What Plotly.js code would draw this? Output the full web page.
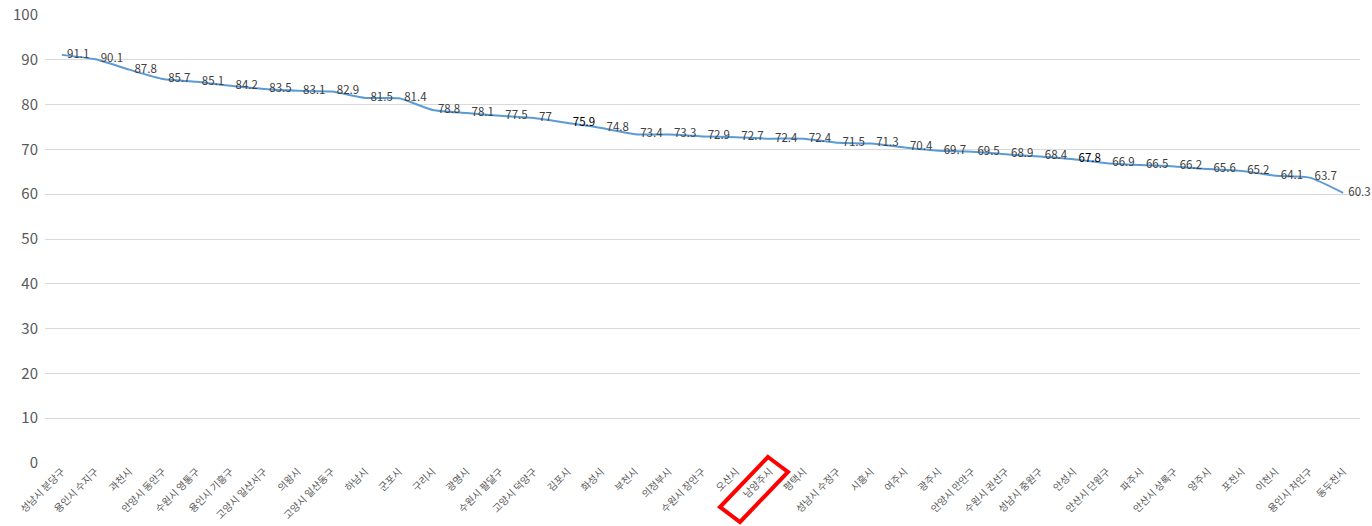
<!DOCTYPE html>
<html><head><meta charset="utf-8">
<script src="https://cdn.plot.ly/plotly-3.0.1.min.js"></script>
<style>html,body{margin:0;padding:0;background:#fff}#c{width:1372px;height:526px}</style>
</head><body><div id="c"></div>
<script>
const categories = ["성남시 분당구","용인시 수지구","과천시","안양시 동안구","수원시 영통구","용인시 기흥구","고양시 일산서구","의왕시","고양시 일산동구","하남시","군포시","구리시","광명시","수원시 팔달구","고양시 덕양구","김포시","화성시","부천시","의정부시","수원시 장안구","오산시","남양주시","평택시","성남시 수정구","시흥시","여주시","광주시","안양시 만안구","수원시 권선구","성남시 중원구","안성시","안산시 단원구","파주시","안산시 상록구","양주시","포천시","이천시","용인시 처인구","동두천시"];
const values = [91.1,90.1,87.8,85.7,85.1,84.2,83.5,83.1,82.9,81.5,81.4,78.8,78.1,77.5,77,75.9,74.8,73.4,73.3,72.9,72.7,72.4,72.4,71.5,71.3,70.4,69.7,69.5,68.9,68.4,67.8,66.9,66.5,66.2,65.6,65.2,64.1,63.7,60.3];
const yTicks = [0,10,20,30,40,50,60,70,80,90,100];
const highlighted = "남양주시";

const W=1372,H=526,L=45,R=12,T=15,B=63;
const pw=W-L-R, ph=H-T-B;
const idx = categories.indexOf(highlighted);
const step = pw/categories.length;
const cx = L + step*(idx+0.5);
const pts = [[-2,-6],[18,9],[-30,59],[-50,44]];
function px2paper(x,y){return [(x-L)/pw, (H-B-y)/ph];}
const path = pts.map((p,i)=>{const q=px2paper(cx+p[0], 463+p[1]); return (i?'L':'M')+q[0].toFixed(4)+','+q[1].toFixed(4);}).join(' ')+' Z';

const textColors = values.map(v => (v===75.9||v===67.8)?'#000000':'#404040');

Plotly.newPlot('c',[{
  type:'scatter', mode:'lines+text',
  x:categories, y:values,
  text:values.map(v=>'\u00a0\u00a0'+v),
  textposition:'middle right',
  textfont:{family:'Noto Sans CJK KR, Noto Sans, sans-serif', size:11.5, color:textColors},
  line:{color:'#5B9BD5', width:2, shape:'spline', smoothing:0.6},
  hoverinfo:'skip', cliponaxis:false
}],{
  width:W,height:H,
  margin:{l:L,r:R,t:T,b:B,pad:0},
  paper_bgcolor:'#fff',plot_bgcolor:'#fff',
  showlegend:false,
  xaxis:{type:'category', tickangle:-45, tickfont:{family:'Noto Sans CJK KR, sans-serif', size:10, color:'#595959'},
    showgrid:false, zeroline:false, showline:false, ticks:'', automargin:false, range:[-0.5,categories.length-0.5]},
  yaxis:{range:[0,100], tickvals:yTicks, showgrid:true, gridcolor:'#d9d9d9', gridwidth:1, zeroline:false,
    showline:false, ticks:'', tickfont:{family:'Noto Sans CJK KR, Noto Sans, sans-serif', size:15, color:'#595959'},
    ticklabelstandoff:6, automargin:false},
  shapes:[{type:'path', xref:'paper', yref:'paper', path:path, line:{color:'#ff0000', width:4}, fillcolor:'rgba(0,0,0,0)'}]
},{staticPlot:true});
</script></body></html>
